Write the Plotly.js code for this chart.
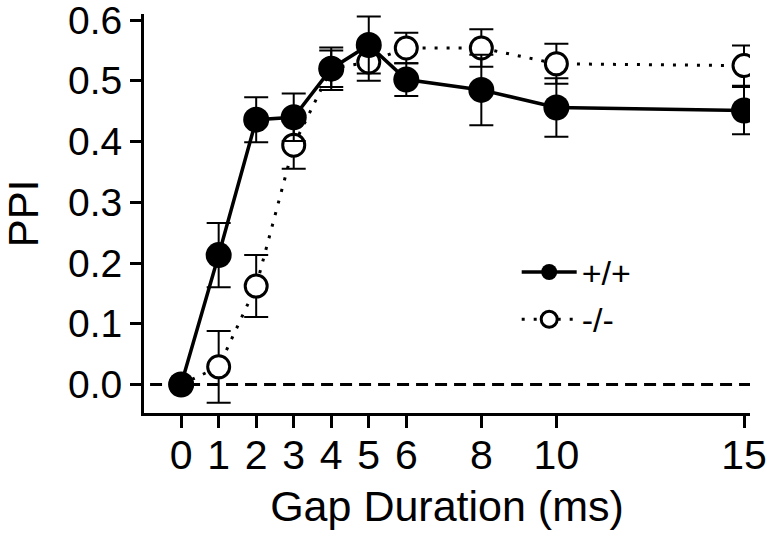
<!DOCTYPE html>
<html>
<head>
<meta charset="utf-8">
<script src="https://cdn.plot.ly/plotly-3.0.1.min.js"></script>
<style>html,body{margin:0;padding:0;background:#fff;}#chart{width:767px;height:537px;}</style>
</head>
<body>
<div id="chart"></div>
<script>
var gapMs = [0, 1, 2, 3, 4, 5, 6, 8, 10, 15];
var wtPPI = [0.0, 0.213, 0.436, 0.44, 0.52, 0.559, 0.502, 0.485, 0.456, 0.451];
var wtSEM = [0.0, 0.053, 0.037, 0.039, 0.035, 0.047, 0.027, 0.058, 0.048, 0.039];
var koPPI = [0.0, 0.029, 0.162, 0.394, 0.52, 0.531, 0.554, 0.554, 0.528, 0.525];
var koSEM = [0.0, 0.059, 0.051, 0.039, 0.03, 0.031, 0.025, 0.031, 0.033, 0.033];
var xTicks = [0, 1, 2, 3, 4, 5, 6, 8, 10, 15];
var yTicks = [0.0, 0.1, 0.2, 0.3, 0.4, 0.5, 0.6];
var seriesNames = ['+/+', '-/-'];

var FONT = 'Liberation Sans, Arial, sans-serif';

var traces = [
  {
    x: gapMs, y: koPPI, name: seriesNames[1], type: 'scatter', mode: 'lines+markers',
    legendrank: 2,
    line: {color: '#000', width: 3, dash: '3px,9px'},
    marker: {symbol: 'circle', size: 22, color: '#fff', line: {color: '#000', width: 3}},
    error_y: {type: 'data', array: koSEM, visible: true, color: '#000', thickness: 2, width: 12}
  },
  {
    x: gapMs, y: wtPPI, name: seriesNames[0], type: 'scatter', mode: 'lines+markers',
    legendrank: 1,
    line: {color: '#000', width: 3.5},
    marker: {symbol: 'circle', size: 26, color: '#000', line: {color: '#000', width: 0}},
    error_y: {type: 'data', array: wtSEM, visible: true, color: '#000', thickness: 2, width: 12}
  }
];

var layout = {
  width: 767, height: 537,
  margin: {l: 144, r: 17, t: 14, b: 124},
  paper_bgcolor: '#fff', plot_bgcolor: '#fff',
  font: {family: FONT, color: '#000', size: 40},
  showlegend: true,
  legend: {x: 0.615, y: 0.425, xanchor: 'left', yanchor: 'top', bgcolor: 'rgba(0,0,0,0)',
           font: {family: FONT, size: 34, color: '#000'}, itemwidth: 55, tracegroupgap: 0},
  xaxis: {
    range: [-0.99, 15.16], tickmode: 'array', tickvals: xTicks, ticktext: xTicks.map(String),
    showline: true, linecolor: '#000', linewidth: 3, mirror: false,
    ticks: 'outside', ticklen: 12, tickwidth: 3, tickcolor: '#000',
    showgrid: false, zeroline: false, ticklabelstandoff: -8, ticklabeloverflow: 'allow',
    tickfont: {family: FONT, size: 41, color: '#000'},
    title: {text: 'Gap Duration (ms)', font: {family: FONT, size: 43, color: '#000'}, standoff: 14}
  },
  yaxis: {
    range: [-0.047, 0.61], tickmode: 'array', tickvals: yTicks, ticktext: yTicks.map(function(v){return v.toFixed(1);}),
    showline: true, linecolor: '#000', linewidth: 3,
    ticks: 'outside', ticklen: 11, tickwidth: 3, tickcolor: '#000',
    showgrid: false, zeroline: false, ticklabeloverflow: 'allow',
    tickfont: {family: FONT, size: 39, color: '#000'},
    title: {text: 'PPI', font: {family: FONT, size: 42, color: '#000'}, standoff: 22}
  },
  shapes: [
    {type: 'line', xref: 'paper', yref: 'y', x0: 0.01, x1: 1, y0: 0, y1: 0,
     line: {color: '#000', width: 3, dash: '12px,7px'}, layer: 'below'}
  ]
};

Plotly.newPlot('chart', traces, layout, {staticPlot: true, displayModeBar: false});
</script>
</body>
</html>
